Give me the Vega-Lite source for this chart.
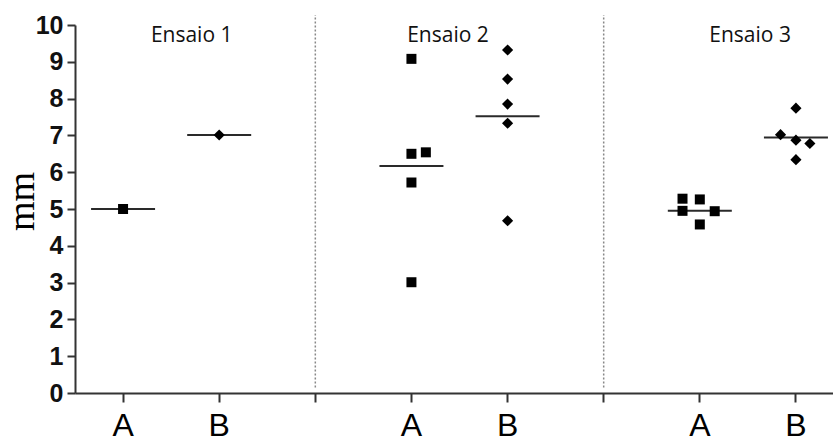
{
  "$schema": "https://vega.github.io/schema/vega-lite/v6.json",
  "autosize": {"type": "none"},
  "padding": {"left": 75, "top": 25, "right": 0, "bottom": 49},
  "width": 758,
  "height": 368,
  "background": "white",
  "config": {"view": {"stroke": null}},
  "datasets": {
    "points": [
      {"cat": "A 1", "g": "A", "j": 0, "v": 5.0},
      {"cat": "B 1", "g": "B", "j": 0, "v": 7.01},
      {"cat": "A 2", "g": "A", "j": 0, "v": 9.08},
      {"cat": "A 2", "g": "A", "j": 0, "v": 6.5},
      {"cat": "A 2", "g": "A", "j": 0.15, "v": 6.54},
      {"cat": "A 2", "g": "A", "j": 0, "v": 5.72},
      {"cat": "A 2", "g": "A", "j": 0, "v": 3.01},
      {"cat": "B 2", "g": "B", "j": 0, "v": 9.32},
      {"cat": "B 2", "g": "B", "j": 0, "v": 8.53},
      {"cat": "B 2", "g": "B", "j": 0, "v": 7.85},
      {"cat": "B 2", "g": "B", "j": 0, "v": 7.33},
      {"cat": "B 2", "g": "B", "j": 0, "v": 4.68},
      {"cat": "A 3", "g": "A", "j": -0.18, "v": 5.28},
      {"cat": "A 3", "g": "A", "j": -0.18, "v": 4.95},
      {"cat": "A 3", "g": "A", "j": 0, "v": 5.26},
      {"cat": "A 3", "g": "A", "j": 0, "v": 4.58},
      {"cat": "A 3", "g": "A", "j": 0.155, "v": 4.94},
      {"cat": "B 3", "g": "B", "j": 0, "v": 7.74},
      {"cat": "B 3", "g": "B", "j": -0.16, "v": 7.02},
      {"cat": "B 3", "g": "B", "j": 0, "v": 6.87},
      {"cat": "B 3", "g": "B", "j": 0.145, "v": 6.78},
      {"cat": "B 3", "g": "B", "j": 0, "v": 6.34}
    ],
    "means": [
      {"cat": "A 1", "v": 5.0},
      {"cat": "B 1", "v": 7.01},
      {"cat": "A 2", "v": 6.17},
      {"cat": "B 2", "v": 7.52},
      {"cat": "A 3", "v": 4.95},
      {"cat": "B 3", "v": 6.94}
    ],
    "seps": [
      {"cat": "sep1", "v": 0.15, "v2": 10.27},
      {"cat": "sep2", "v": 0.15, "v2": 10.27}
    ],
    "labels": [
      {"cat": "B 1", "j": -0.286, "v": 9.55, "t": "Ensaio 1"},
      {"cat": "A 2", "j": 0.38, "v": 9.55, "t": "Ensaio 2"},
      {"cat": "A 3", "j": 0.523, "v": 9.55, "t": "Ensaio 3"}
    ]
  },
  "encoding": {
    "x": {
      "field": "cat",
      "type": "nominal",
      "scale": {
        "type": "band",
        "domain": ["A 1", "B 1", "sep1", "A 2", "B 2", "sep2", "A 3", "B 3"],
        "range": [0, 769],
        "paddingInner": 0,
        "paddingOuter": 0
      },
      "axis": {
        "title": null,
        "labelExpr": "indexof(datum.value,'sep')==0 ? '' : slice(datum.value,0,1)",
        "labelFont": "Liberation Sans Narrow, Liberation Sans, sans-serif",
        "labelFontSize": 32,
        "labelColor": "#000",
        "labelAngle": 0,
        "labelBaseline": "alphabetic",
        "labelPadding": 33,
        "tickSize": 9,
        "tickWidth": 2,
        "tickColor": "#333",
        "domainColor": "#333",
        "domainWidth": 2,
        "bandPosition": 0.5,
        "grid": false
      }
    },
    "y": {
      "field": "v",
      "type": "quantitative",
      "scale": {"domain": [0, 10], "nice": false, "zero": true},
      "axis": {
        "title": "mm",
        "titleFont": "Liberation Serif",
        "titleFontSize": 38,
        "titleFontWeight": "normal",
        "titleColor": "#000",
        "titleAngle": -90,
        "titleAlign": "center",
        "titleBaseline": "alphabetic",
        "titleX": -42,
        "titleY": 176,
        "values": [0, 1, 2, 3, 4, 5, 6, 7, 8, 9, 10],
        "labelFont": "Liberation Sans Narrow, Liberation Sans, sans-serif",
        "labelFontWeight": "bold",
        "labelFontSize": 25,
        "labelColor": "#111",
        "labelPadding": 4,
        "tickSize": 8,
        "tickWidth": 2,
        "tickColor": "#333",
        "domainColor": "#333",
        "domainWidth": 2,
        "grid": false
      }
    }
  },
  "layer": [
    {
      "data": {"name": "seps"},
      "mark": {"type": "rule", "color": "#888", "strokeDash": [2, 2], "strokeWidth": 1.5},
      "encoding": {"y2": {"field": "v2"}}
    },
    {
      "data": {"name": "means"},
      "mark": {"type": "tick", "orient": "horizontal", "size": 64, "thickness": 2, "color": "#2a2a2a", "opacity": 1},
      "encoding": {}
    },
    {
      "data": {"name": "points"},
      "transform": [{"filter": "datum.g == 'A'"}],
      "mark": {"type": "point", "shape": "square", "filled": true, "opacity": 1, "size": 100, "color": "#000"},
      "encoding": {
        "xOffset": {"field": "j", "type": "quantitative", "scale": {"domain": [-0.5, 0.5]}}
      }
    },
    {
      "data": {"name": "points"},
      "transform": [{"filter": "datum.g == 'B'"}],
      "mark": {"type": "point", "shape": "diamond", "filled": true, "opacity": 1, "size": 125, "color": "#000"},
      "encoding": {
        "xOffset": {"field": "j", "type": "quantitative", "scale": {"domain": [-0.5, 0.5]}}
      }
    },
    {
      "data": {"name": "labels"},
      "mark": {"type": "text", "font": "Open Sans", "fontSize": 21, "baseline": "alphabetic", "align": "center", "color": "#111"},
      "encoding": {
        "xOffset": {"field": "j", "type": "quantitative", "scale": {"domain": [-0.5, 0.5]}},
        "text": {"field": "t"}
      }
    }
  ]
}
